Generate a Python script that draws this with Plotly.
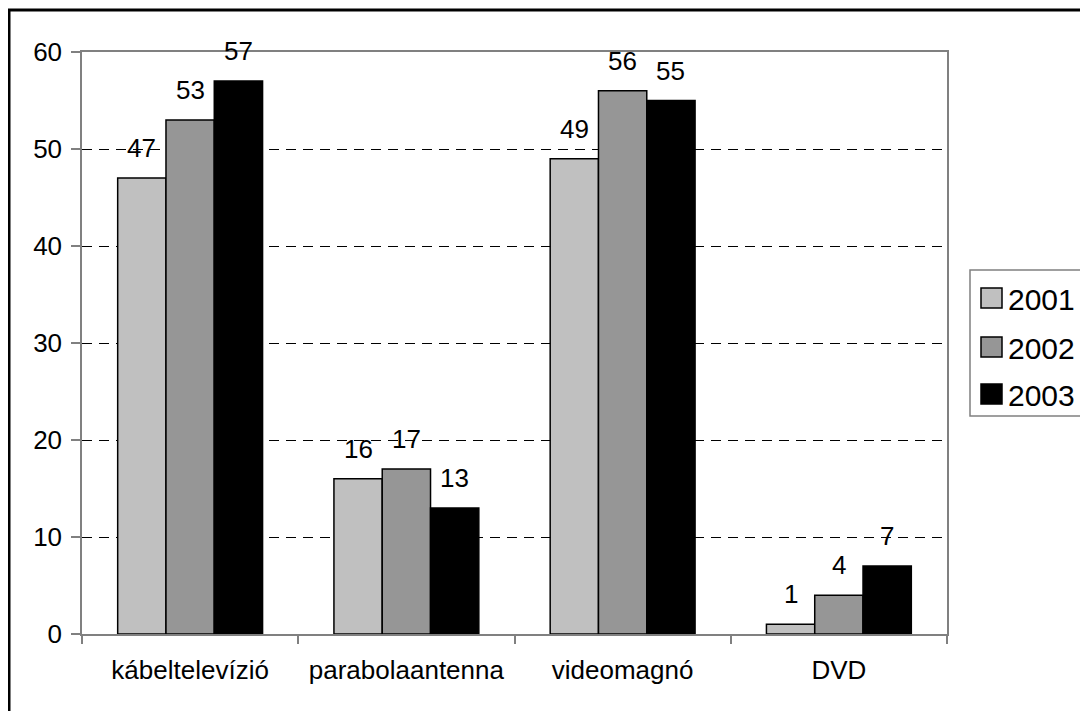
import plotly.graph_objects as go

categories = ["kábeltelevízió", "parabolaantenna", "videomagnó", "DVD"]
years = ["2001", "2002", "2003"]
v2001 = [47, 16, 49, 1]
v2002 = [53, 17, 56, 4]
v2003 = [57, 13, 55, 7]
series = [v2001, v2002, v2003]
colors = ["#C0C0C0", "#969696", "#000000"]
y_ticks = [0, 10, 20, 30, 40, 50, 60]

OFF = 8  # page body margin
W, H = 1088, 711
ML, MT = 82 - OFF, 52 - OFF
PW, PH = 865, 582
MR = W - ML - PW
MB = H - MT - PH
FONT = "Liberation Sans, Arial, sans-serif"
BARGAP = 0.33
FS = 26


def px_x(px):
    return (px - OFF - ML) / PW


def px_y(py):
    return (OFF + MT + PH - py) / PH


fig = go.Figure()
for name, vals, col in zip(years, series, colors):
    fig.add_trace(go.Bar(
        x=categories, y=vals, name=name,
        marker=dict(color=col, line=dict(color="#000000", width=1.5)),
        showlegend=False,
    ))

annotations = []
w = (1 - BARGAP) / len(years)
for j, vals in enumerate(series):
    for i, v in enumerate(vals):
        annotations.append(dict(
            x=i + (j - 1) * w, y=v, xref="x", yref="y",
            text=str(v), showarrow=False, yanchor="bottom", yshift=13,
            font=dict(family=FONT, size=FS, color="#000000"),
        ))

shapes = []
# outer chart border
shapes.append(dict(type="rect", xref="paper", yref="paper",
                   x0=px_x(9), x1=px_x(1200), y0=px_y(800), y1=px_y(10),
                   line=dict(color="#000000", width=3), layer="below"))
# legend box
shapes.append(dict(type="rect", xref="paper", yref="paper",
                   x0=px_x(970), x1=px_x(1200), y0=px_y(416), y1=px_y(270),
                   line=dict(color="#808080", width=1.5)))
row_centers = [298, 347, 394]
for name, col, cy in zip(years, colors, row_centers):
    shapes.append(dict(type="rect", xref="paper", yref="paper",
                       x0=px_x(981), x1=px_x(1002), y0=px_y(cy + 10), y1=px_y(cy - 10),
                       fillcolor=col, line=dict(color="#000000", width=1.5)))
    annotations.append(dict(x=px_x(1006), y=px_y(cy + 1), xref="paper", yref="paper",
                            text=name, showarrow=False, xanchor="left", yanchor="middle",
                            font=dict(family=FONT, size=30, color="#000000")))

fig.update_layout(
    width=W, height=H,
    margin=dict(l=ML, r=MR, t=MT, b=MB, pad=0),
    paper_bgcolor="#FFFFFF", plot_bgcolor="#FFFFFF",
    barmode="group", bargap=BARGAP, bargroupgap=0,
    font=dict(family=FONT, size=FS, color="#000000"),
    showlegend=False,
    shapes=shapes, annotations=annotations,
)
fig.update_xaxes(
    type="category", showgrid=False,
    showline=True, linecolor="#808080", linewidth=1.5, mirror=True,
    ticks="outside", tickson="boundaries", ticklen=8, tickcolor="#808080", tickwidth=1.5,
    ticklabelstandoff=12,
    tickfont=dict(family=FONT, size=FS, color="#000000"),
)
fig.update_yaxes(
    range=[0, 60], tickvals=y_ticks,
    showgrid=True, gridcolor="#000000", gridwidth=1, griddash="10px,7px",
    showline=True, linecolor="#808080", linewidth=1.5, mirror=True,
    ticks="outside", ticklen=9, tickcolor="#808080", tickwidth=1.5,
    ticklabelstandoff=4, zeroline=False,
    tickfont=dict(family=FONT, size=FS, color="#000000"),
)

fig.write_html("out.html", config={"displayModeBar": False})
